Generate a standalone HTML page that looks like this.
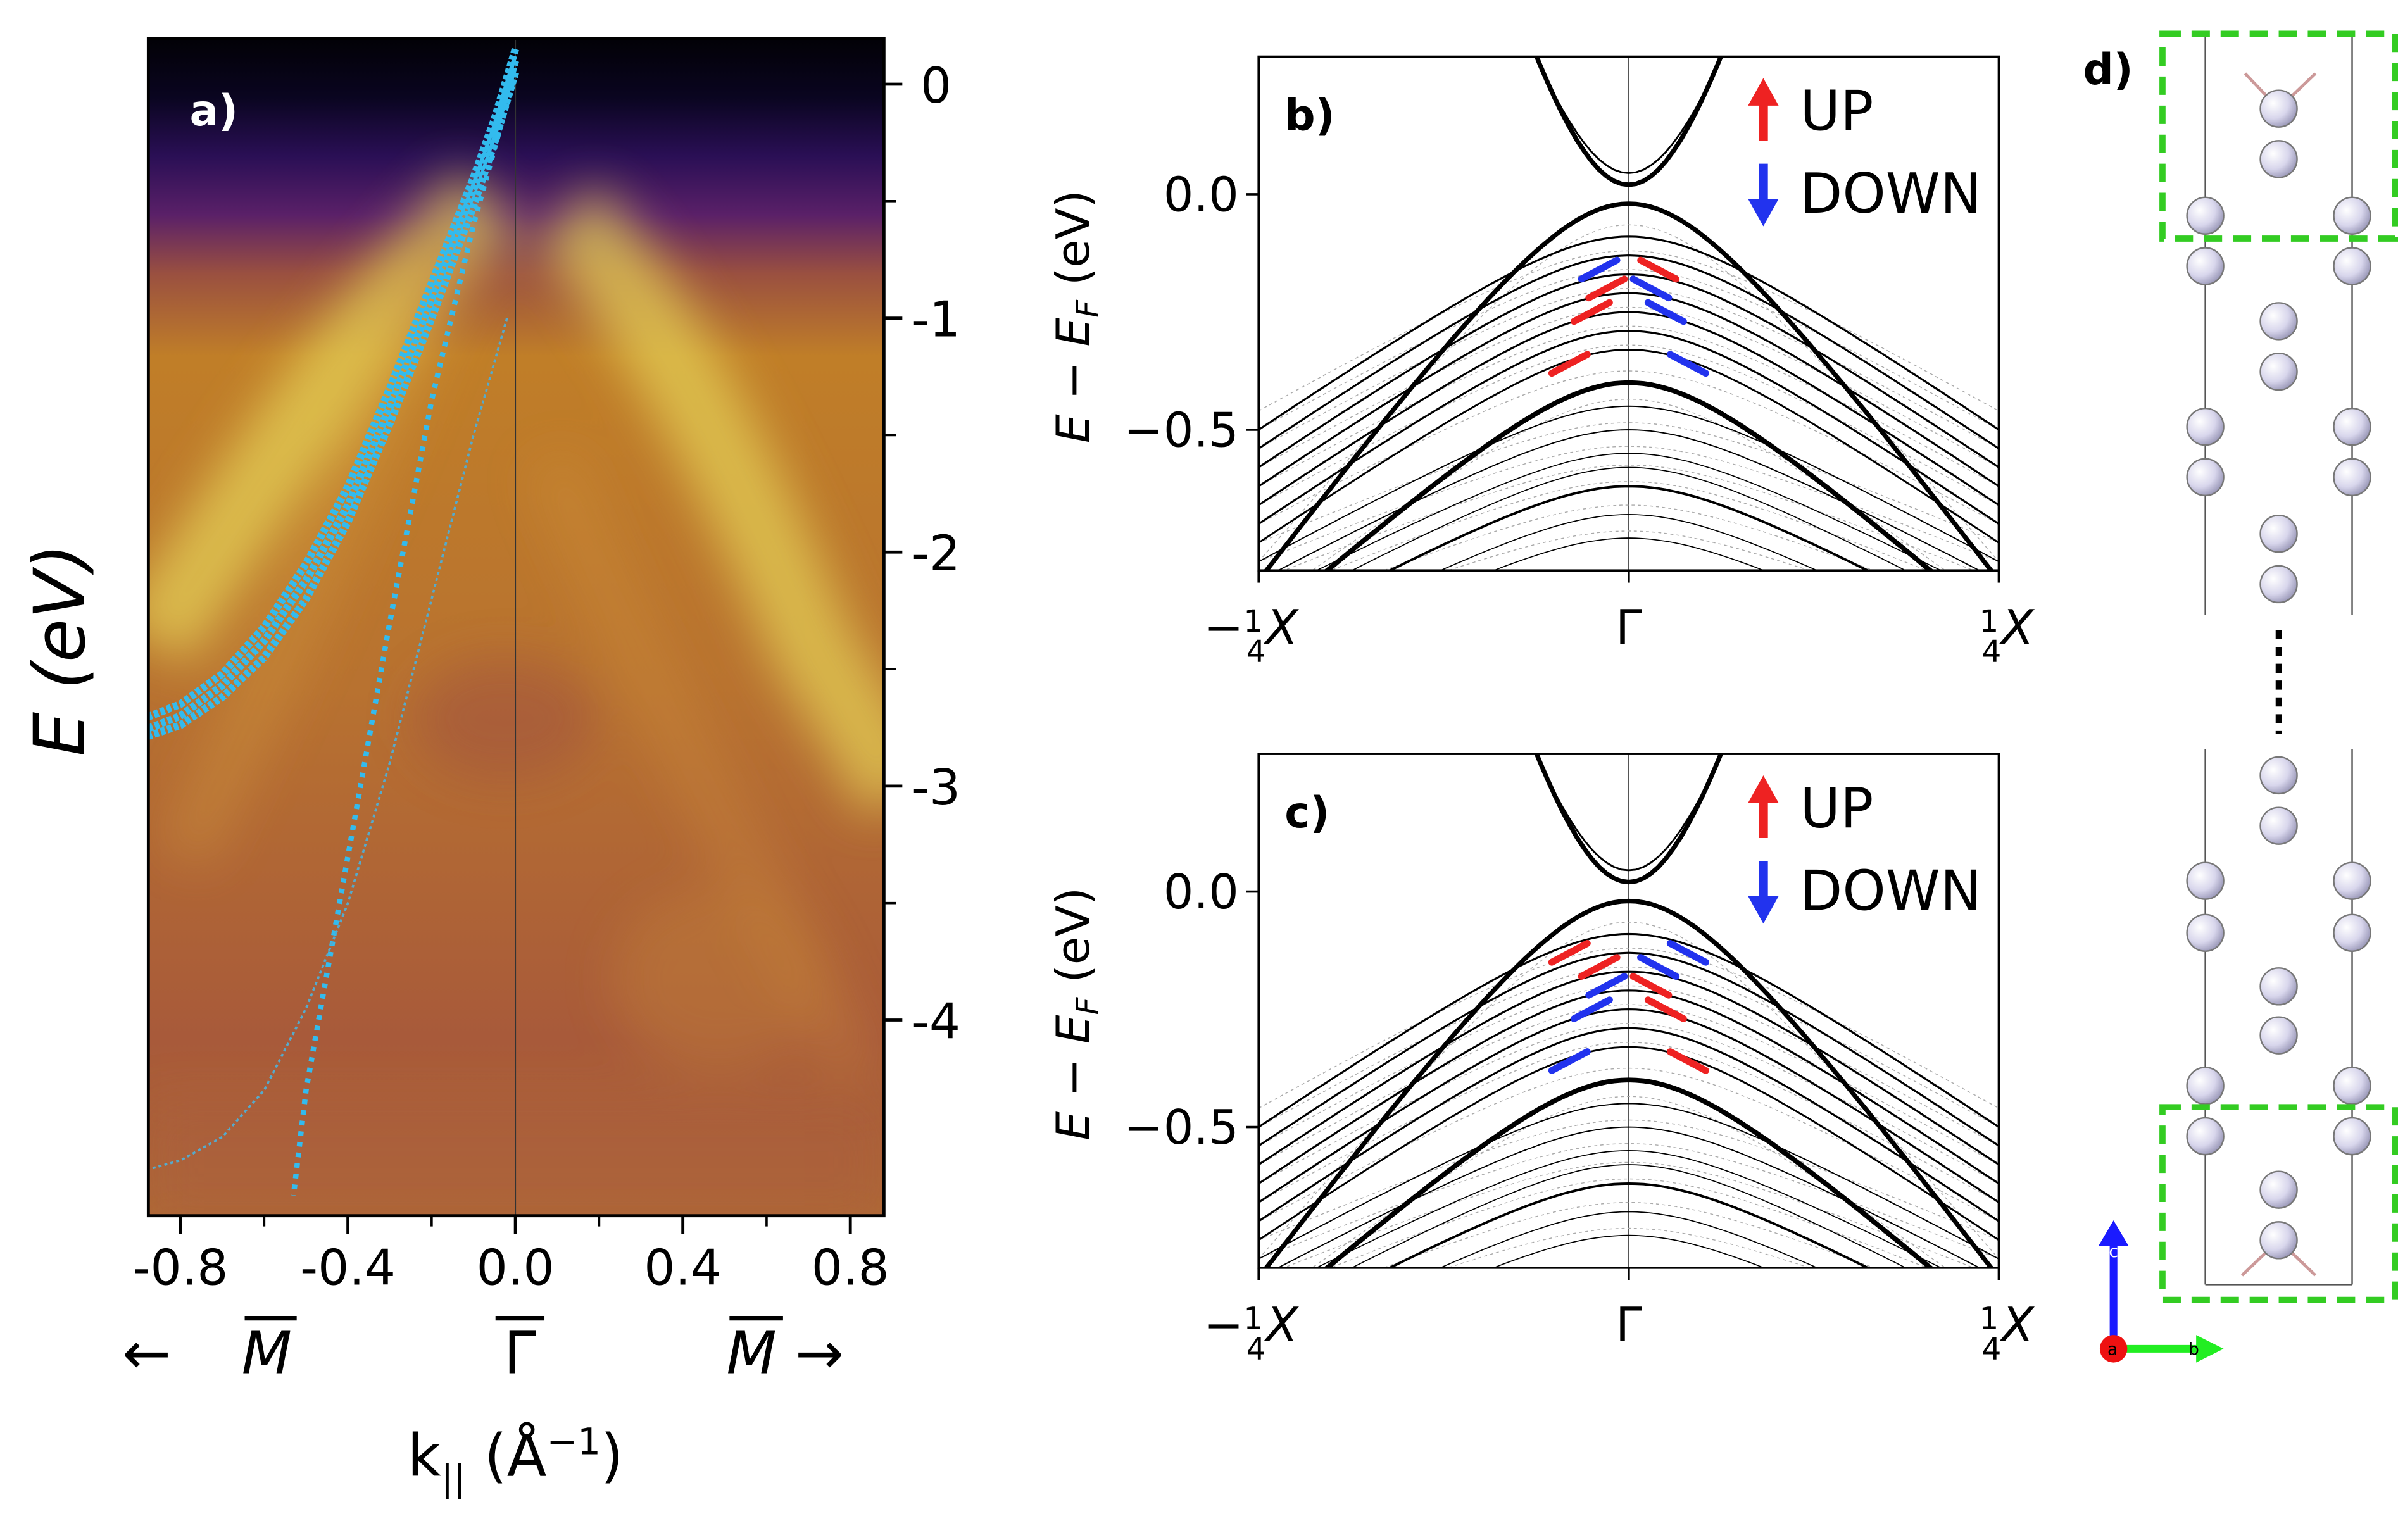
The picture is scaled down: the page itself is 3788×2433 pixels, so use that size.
<!DOCTYPE html>
<html><head><meta charset="utf-8"><style>
html,body{margin:0;padding:0;background:#fff;width:3788px;height:2433px;overflow:hidden}
svg{display:block}
text{font-family:"DejaVu Sans","Liberation Sans",sans-serif}
</style></head><body>
<svg id="fig" width="3788" height="2433" viewBox="0 0 1568 1007" xmlns="http://www.w3.org/2000/svg">
<defs>
<linearGradient id="bg" x1="0" y1="0" x2="0" y2="1">
<stop offset="0" stop-color="#020106"/>
<stop offset="0.05" stop-color="#0a0520"/>
<stop offset="0.1" stop-color="#2a0f55"/>
<stop offset="0.15" stop-color="#5a2068"/>
<stop offset="0.2" stop-color="#9a5040"/>
<stop offset="0.27" stop-color="#c07e28"/>
<stop offset="0.55" stop-color="#b87230"/>
<stop offset="0.85" stop-color="#a85a3a"/>
<stop offset="1" stop-color="#b06a35"/>
</linearGradient>
<filter id="blur" x="-30%" y="-30%" width="160%" height="160%"><feGaussianBlur stdDeviation="16"/></filter>
<clipPath id="clipA"><rect x="97" y="25" width="481" height="770"/></clipPath>
<clipPath id="clipB"><rect x="823" y="37" width="484" height="336"/></clipPath>
<clipPath id="clipC"><rect x="823" y="493" width="484" height="336"/></clipPath>
<radialGradient id="atom" cx="0.35" cy="0.35" r="0.7"><stop offset="0" stop-color="#ffffff"/><stop offset="0.6" stop-color="#d8d6ec"/><stop offset="1" stop-color="#9a98b8"/></radialGradient>
</defs>

<g id="panelA">
<g clip-path="url(#clipA)">
<rect x="97" y="25" width="481" height="770" fill="url(#bg)"/>
<g filter="url(#blur)" opacity="0.7">
<path d="M320,130 C280,170 220,240 160,330 L100,420" stroke="#e8d85a" stroke-width="55" fill="none"/>
<path d="M370,140 C420,190 480,300 530,420 L590,520" stroke="#e6d458" stroke-width="55" fill="none"/>
<path d="M300,150 C260,250 200,400 120,560" stroke="#d8a040" stroke-width="35" fill="none" opacity="0.5"/>
<path d="M360,300 C400,400 450,500 560,700" stroke="#d89a40" stroke-width="35" fill="none" opacity="0.4"/>
<ellipse cx="330" cy="470" rx="60" ry="40" fill="#9a4a45" opacity="0.6"/>
<ellipse cx="470" cy="640" rx="70" ry="60" fill="#c88a35" opacity="0.5"/>
<rect x="97" y="720" width="481" height="80" fill="#a85a40" opacity="0.5"/>
</g>
<line x1="337" y1="25" x2="337" y2="795" stroke="#333" stroke-width="0.8"/>
</g>
<g id="cyanLines" clip-path="url(#clipA)"></g>
<rect x="97" y="25" width="481" height="770" fill="none" stroke="#000" stroke-width="2"/>
<g id="axA"></g>
<text x="124" y="82" font-size="28" font-weight="bold" fill="#fff">a)</text>
<text transform="translate(55,425) rotate(-90)" font-size="46" font-style="italic" text-anchor="middle">E (eV)</text>
<text x="337" y="965" font-size="38" text-anchor="middle">k<tspan font-size="24" dy="10">||</tspan><tspan dy="-10"> (Å</tspan><tspan font-size="24" dy="-14">−1</tspan><tspan dy="14">)</tspan></text>
<g><text x="80" y="898" font-size="38">←</text><text x="158" y="898" font-size="38" font-style="italic">M</text><line x1="160" y1="862" x2="194" y2="862" stroke="#000" stroke-width="3"/></g>
<g><text x="340" y="898" font-size="38" text-anchor="middle">Γ</text><line x1="324" y1="862" x2="356" y2="862" stroke="#000" stroke-width="3"/></g>
<g><text x="475" y="898" font-size="38"><tspan font-style="italic">M</tspan> →</text><line x1="477" y1="862" x2="512" y2="862" stroke="#000" stroke-width="3"/></g>
</g>

<g id="panelB"></g>
<g id="panelC"></g>

<g id="panelD">
<text x="1362" y="55" font-size="28" font-weight="bold">d)</text>
<g stroke="#555" stroke-width="1">
<line x1="1442" y1="22" x2="1442" y2="402"/><line x1="1538" y1="22" x2="1538" y2="402"/>
<line x1="1442" y1="490" x2="1442" y2="840"/><line x1="1538" y1="490" x2="1538" y2="840"/>
<line x1="1442" y1="840" x2="1538" y2="840"/>
</g>
<line x1="1490" y1="412" x2="1490" y2="480" stroke="#000" stroke-width="4" stroke-dasharray="6,5"/>
<g id="atoms"></g>
<rect x="1414" y="22" width="152" height="134" fill="none" stroke="#33cc22" stroke-width="4" stroke-dasharray="12,7"/>
<rect x="1414" y="724" width="152" height="126" fill="none" stroke="#33cc22" stroke-width="4" stroke-dasharray="12,7"/>
<g>
<line x1="1382" y1="882" x2="1382" y2="812" stroke="#1a1aff" stroke-width="5"/><polygon points="1372,815 1392,815 1382,798" fill="#1a1aff"/>
<text x="1379" y="822" font-size="11" fill="#fff">c</text>
<line x1="1382" y1="882" x2="1440" y2="882" stroke="#22ee22" stroke-width="5"/><polygon points="1436,873 1436,891 1454,882" fill="#22ee22"/>
<text x="1431" y="886" font-size="11">b</text>
<circle cx="1382" cy="882" r="9" fill="#ee1111"/><text x="1378" y="886" font-size="11">a</text>
</g>
</g>
</svg>
<script>
const NS='http://www.w3.org/2000/svg';
function mk(tag,attrs,parent){const e=document.createElementNS(NS,tag);for(const k in attrs)e.setAttribute(k,attrs[k]);parent.appendChild(e);return e;}

const aTicksE=[0,-1,-2,-3,-4];
const aTickLabels=['0','-1','-2','-3','-4'];
const aTicksK=[-0.8,-0.4,0.0,0.4,0.8];
const aTickKLabels=['-0.8','-0.4','0.0','0.4','0.8'];
const cyanK=[0,-0.05,-0.1,-0.2,-0.3,-0.4,-0.5,-0.6,-0.7,-0.8,-0.9];
const cyanBands=[
 [0.15,-0.15,-0.4,-0.85,-1.3,-1.72,-2.05,-2.32,-2.52,-2.65,-2.72],
 [0.1,-0.2,-0.45,-0.92,-1.38,-1.8,-2.12,-2.38,-2.57,-2.7,-2.77],
 [0.05,-0.25,-0.52,-1.0,-1.45,-1.87,-2.2,-2.45,-2.62,-2.74,-2.8]
];
const cyanLinK=[0,-0.1,-0.2,-0.3,-0.4,-0.5,-0.53];
const cyanLinE=[0.05,-0.6,-1.35,-2.3,-3.3,-4.3,-4.75];
const cyanThinK=[-0.02,-0.1,-0.2,-0.3,-0.4,-0.5,-0.6,-0.7,-0.8,-0.9];
const cyanThinE=[-1.0,-1.5,-2.2,-2.9,-3.5,-3.95,-4.3,-4.5,-4.6,-4.65];
const xA=k=>337+k*273.75, yA=e=>55-e*153;
const axA=document.getElementById('axA');
aTicksE.forEach((e,i)=>{const t=mk('line',{x1:578,x2:590,y1:yA(e),y2:yA(e),stroke:'#000','stroke-width':2},axA);

const l=mk('text',{x:612,y:yA(e)+12,'font-size':32,'text-anchor':'middle'},axA);l.textContent=aTickLabels[i];

if(i<4){mk('line',{x1:578,x2:586,y1:yA(e-0.5),y2:yA(e-0.5),stroke:'#000','stroke-width':1.5},axA);}});
aTicksK.forEach((k,i)=>{const t=mk('line',{x1:xA(k),x2:xA(k),y1:795,y2:807,stroke:'#000','stroke-width':2},axA);

const l=mk('text',{x:xA(k),y:840,'font-size':32,'text-anchor':'middle'},axA);l.textContent=aTickKLabels[i];

if(i<4)mk('line',{x1:xA(k+0.2),x2:xA(k+0.2),y1:795,y2:802,stroke:'#000','stroke-width':1.5},axA);});
const cy=document.getElementById('cyanLines');
cyanBands.forEach(b=>{const p=mk('path',{d:'M'+b.map((e,i)=>xA(cyanK[i])+','+yA(e)).join(' L'),fill:'none',stroke:'#33bbee','stroke-width':5,'stroke-dasharray':'3,1.5'},cy);
});
let p1=mk('path',{d:'M'+cyanLinE.map((e,i)=>xA(cyanLinK[i])+','+yA(e)).join(' L'),fill:'none',stroke:'#33bbee','stroke-width':3.5,'stroke-dasharray':'3,4'},cy);

let p2=mk('path',{d:'M'+cyanThinE.map((e,i)=>xA(cyanThinK[i])+','+yA(e)).join(' L'),fill:'none',stroke:'#55aacc','stroke-width':1.5,'stroke-dasharray':'2,2'},cy);


const bTicksE=[0.0,-0.5];
const bTickLabels=['0.0','−0.5'];
const valTop=[-0.02,-0.09,-0.13,-0.17,-0.21,-0.25,-0.29,-0.33,-0.40,-0.45,-0.50,-0.55,-0.58,-0.62,-0.68,-0.73];
const valEdge=[-0.82,-0.50,-0.54,-0.58,-0.62,-0.66,-0.70,-0.74,-0.92,-0.78,-0.82,-0.86,-0.9,-0.94,-0.98,-1.02];
const valWidth=[3,1.3,1.3,1.3,1.3,1.3,1.3,1.2,3.2,0.8,0.8,0.7,0.7,1.6,0.7,0.7];
const conMin=[0.02,0.045];
const conEdge=[2.2,2.0];
const conWidth=[3,1.2];
const spinB=[[-0.02,-0.16,'b'],[0.02,-0.16,'r'],[-0.025,-0.25,'r'],[0.025,-0.25,'b'],[-0.04,-0.36,'r'],[0.04,-0.36,'b'],[-0.015,-0.2,'r'],[0.015,-0.2,'b']];
const spinC=[[-0.02,-0.16,'r'],[0.02,-0.16,'b'],[-0.025,-0.25,'b'],[0.025,-0.25,'r'],[-0.04,-0.36,'b'],[0.04,-0.36,'r'],[-0.015,-0.2,'b'],[0.015,-0.2,'r'],[0.04,-0.13,'b'],[-0.04,-0.13,'r']];

function bandPanel(id,top,label,spin,clip){
 const g=document.getElementById(id);
 const x=k=>1065+k*968, y=e=>top+90-e*308;
 const bands=mk('g',{'clip-path':'url(#'+clip+')'},g);
 mk('line',{x1:1065,x2:1065,y1:top,y2:top+336,stroke:'#555','stroke-width':0.8},bands);
 const w=0.07;
 const D=Math.sqrt(0.0625+w*w)-w;
 function curve(t,edge){let pts=[];const s=(edge-t)/D;
  for(let i=0;i<=100;i++){const k=-0.25+i*0.005;const e=t+s*(Math.sqrt(k*k+w*w)-w);pts.push(x(k).toFixed(1)+','+y(e).toFixed(1));}
  return 'M'+pts.join(' L');}
 for(let i=0;i<valTop.length-1;i++){const pth=mk('path',{d:curve((valTop[i]+valTop[i+1])/2-0.01,valEdge[i]+0.04),fill:'none',stroke:'#aaa','stroke-width':0.6,'stroke-dasharray':'2,2'},bands);
  }
 valTop.forEach((t,i)=>{const pth=mk('path',{d:curve(t,valEdge[i]),fill:'none',stroke:'#000','stroke-width':valWidth[i]},bands);
  });
 conMin.forEach((t,i)=>{const pth=mk('path',{d:curve(t,conEdge[i]),fill:'none',stroke:'#000','stroke-width':conWidth[i]},bands);
  });
 spin.forEach(s=>{const c=s[2]=='r'?'#ee2222':'#2233ee';
  const k1=s[0]-0.012,k2=s[0]+0.012;const sl=s[0]<0?1:-1;
  const pth=mk('line',{x1:x(k1),y1:y(s[1]-0.02*sl),x2:x(k2),y2:y(s[1]+0.02*sl),stroke:c,'stroke-width':4.5,'stroke-linecap':'round'},bands);
  });
 mk('rect',{x:823,y:top,width:484,height:336,fill:'none',stroke:'#000','stroke-width':1.5},g);
 bTicksE.forEach((e,i)=>{mk('line',{x1:815,x2:823,y1:y(e),y2:y(e),stroke:'#000','stroke-width':1.5},g);
  const l=mk('text',{x:810,y:y(e)+11,'font-size':31,'text-anchor':'end'},g);l.textContent=bTickLabels[i];
  });
 [-0.25,0,0.25].forEach((k,i)=>{mk('line',{x1:x(k),x2:x(k),y1:top+336,y2:top+344,stroke:'#000','stroke-width':1.5},g);
  const l=mk('text',{x:x(k)+(i==0?-5:i==2?5:0),y:top+384,'font-size':31,'text-anchor':'middle'},g);
  if(i==1)l.textContent='Γ';else{l.innerHTML=(i==0?'−':'')+'<tspan font-size="20" dy="-8">1</tspan><tspan font-size="20" dx="-11" dy="20">4</tspan><tspan dy="-12" font-style="italic">X</tspan>';}
  });
 const yt=mk('text',{transform:'translate(712,'+(top+170)+') rotate(-90)','font-size':30,'text-anchor':'middle'},g);
 yt.innerHTML='<tspan font-style="italic">E</tspan> − <tspan font-style="italic">E</tspan><tspan font-size="20" dy="6" font-style="italic">F</tspan><tspan dy="-6"> (eV)</tspan>';
 
 const pl=mk('text',{x:840,y:top+48,'font-size':28,'font-weight':'bold'},g);pl.textContent=label;
 
 const lg=mk('g',{},g);
 mk('line',{x1:1153,x2:1153,y1:top+55,y2:top+30,stroke:'#ee2222','stroke-width':6},lg);
 mk('polygon',{points:'1143,'+(top+32)+' 1163,'+(top+32)+' 1153,'+(top+14),fill:'#ee2222'},lg);
 const u=mk('text',{x:1177,y:top+48,'font-size':36},lg);u.textContent='UP';
 mk('line',{x1:1153,x2:1153,y1:top+70,y2:top+95,stroke:'#2233ee','stroke-width':6},lg);
 mk('polygon',{points:'1143,'+(top+93)+' 1163,'+(top+93)+' 1153,'+(top+111),fill:'#2233ee'},lg);
 const d=mk('text',{x:1177,y:top+102,'font-size':36},lg);d.textContent='DOWN';
}
bandPanel('panelB',37,'b)',spinB,'clipB');
bandPanel('panelC',493,'c)',spinC,'clipC');

const atomX=[1490,1490,1442,1538,1442,1538,1490,1490,1442,1538,1442,1538,1490,1490,1490,1490,1442,1538,1442,1538,1490,1490,1442,1538,1442,1538,1490,1490];
const atomY=[71,104,141,141,174,174,210,243,279,279,312,312,349,382,507,540,576,576,610,610,645,677,710,710,743,743,778,811];
const at=document.getElementById('atoms');
mk('line',{x1:1490,y1:71,x2:1468,y2:48,stroke:'#c99','stroke-width':2},at);mk('line',{x1:1490,y1:71,x2:1514,y2:48,stroke:'#c99','stroke-width':2},at);
mk('line',{x1:1490,y1:811,x2:1466,y2:834,stroke:'#c99','stroke-width':2},at);mk('line',{x1:1490,y1:811,x2:1514,y2:834,stroke:'#c99','stroke-width':2},at);
atomX.forEach((ax,i)=>{const c=mk('circle',{cx:ax,cy:atomY[i],r:12,fill:'url(#atom)',stroke:'#777','stroke-width':1},at);
 });
</script>
</body></html>
